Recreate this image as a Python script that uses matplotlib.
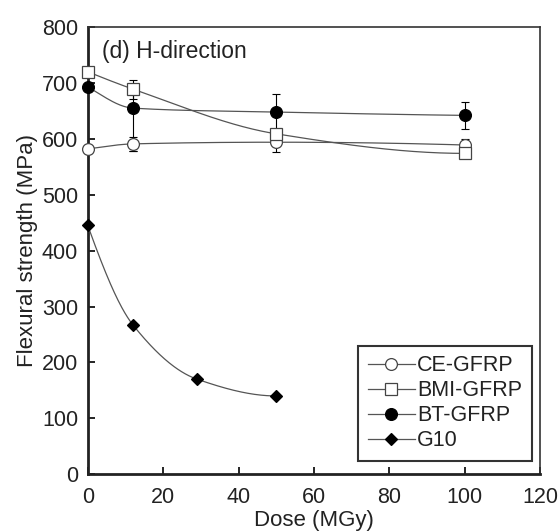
import numpy as np
import matplotlib.pyplot as plt

plt.rcParams['font.family'] = ['Liberation Sans', 'DejaVu Sans']

# dose (MGy) and flexural strength (MPa)
dose_gfrp = [0, 12, 50, 100]
ce_gfrp = [582, 591, 594, 589]
ce_err = [0, 12, 18, 10]
bmi_gfrp = [720, 689, 609, 574]
bmi_err = [0, 17, 0, 0]
bt_gfrp = [693, 655, 648, 642]
bt_err_lo = [0, 77, 32, 24]
bt_err_hi = [0, 30, 32, 24]

dose_g10 = [0, 12, 29, 50]
g10 = [445, 267, 170, 140]


def smooth(x, y, n=200):
    # monotone cubic (PCHIP) curve through the points, just for the connecting line
    x = np.asarray(x, float)
    y = np.asarray(y, float)
    h = np.diff(x)
    d = np.diff(y) / h
    m = np.zeros_like(y)
    for i in range(1, len(x) - 1):
        if d[i - 1] * d[i] > 0:
            w1 = 2 * h[i] + h[i - 1]
            w2 = h[i] + 2 * h[i - 1]
            m[i] = (w1 + w2) / (w1 / d[i - 1] + w2 / d[i])

    def end_slope(h0, h1, d0, d1):
        s = ((2 * h0 + h1) * d0 - h0 * d1) / (h0 + h1)
        if np.sign(s) != np.sign(d0):
            s = 0.0
        elif np.sign(d0) != np.sign(d1) and abs(s) > abs(3 * d0):
            s = 3 * d0
        return s

    m[0] = end_slope(h[0], h[1], d[0], d[1])
    m[-1] = end_slope(h[-1], h[-2], d[-1], d[-2])
    xs = np.linspace(x[0], x[-1], n)
    ys = np.empty_like(xs)
    for j, xv in enumerate(xs):
        k = min(np.searchsorted(x, xv, side='right') - 1, len(x) - 2)
        t = (xv - x[k]) / h[k]
        h00 = 2 * t**3 - 3 * t**2 + 1
        h10 = t**3 - 2 * t**2 + t
        h01 = -2 * t**3 + 3 * t**2
        h11 = t**3 - t**2
        ys[j] = h00 * y[k] + h10 * h[k] * m[k] + h01 * y[k + 1] + h11 * h[k] * m[k + 1]
    return xs, ys


fig = plt.figure(figsize=(5.59, 5.31), dpi=100)
ax = fig.add_axes([0.157, 0.107, 0.809, 0.842])

line_c = '#555555'
txt_c = '#222222'
fs = 16

# error bars
ax.errorbar(dose_gfrp, ce_gfrp, yerr=ce_err, fmt='none', ecolor='black', elinewidth=0.8, capsize=3, capthick=0.8, zorder=2)
ax.errorbar(dose_gfrp, bmi_gfrp, yerr=bmi_err, fmt='none', ecolor='black', elinewidth=0.8, capsize=3, capthick=0.8, zorder=2)
ax.errorbar(dose_gfrp, bt_gfrp, yerr=[bt_err_lo, bt_err_hi], fmt='none', ecolor='black', elinewidth=0.8, capsize=3, capthick=0.8, zorder=2)

series = [
    (dose_gfrp, ce_gfrp, 'o', 'white', 8.5, 'CE-GFRP'),
    (dose_gfrp, bmi_gfrp, 's', 'white', 9, 'BMI-GFRP'),
    (dose_gfrp, bt_gfrp, 'o', 'black', 8.5, 'BT-GFRP'),
    (dose_g10, g10, 'D', 'black', 6.5, 'G10'),
]
handles = []
for x, y, mk, fc, ms, lab in series:
    xs, ys = smooth(x, y)
    ec = 'black' if fc == 'black' else '#444444'
    ax.plot(xs, ys, color=line_c, lw=0.9, zorder=3)
    ax.plot(x, y, linestyle='none', marker=mk, mfc=fc, mec=ec,
            mew=0.9, ms=ms, zorder=4, clip_on=False)
    h, = ax.plot([], [], color=line_c, lw=0.9, marker=mk, mfc=fc, mec=ec, mew=0.9, ms=ms, label=lab)
    handles.append(h)

ax.set_xlim(0, 120)
ax.set_ylim(0, 800)
ax.set_xticks(range(0, 121, 20))
ax.set_yticks(range(0, 801, 100))
ax.tick_params(direction='in', length=5, width=1.2, labelsize=15.5, labelcolor=txt_c,
               top=False, right=False, pad=7)
ax.tick_params(axis='x', pad=9)

for s in ['left', 'bottom']:
    ax.spines[s].set_linewidth(2)
    ax.spines[s].set_color('#222222')
for s in ['top', 'right']:
    ax.spines[s].set_linewidth(1.2)
    ax.spines[s].set_color('#333333')

ax.set_xlabel('Dose (MGy)', fontsize=fs, color=txt_c, labelpad=2)
ax.set_ylabel('Flexural strength (MPa)', fontsize=fs, color=txt_c, labelpad=3)

ax.text(0.031, 0.97, '(d) H-direction', transform=ax.transAxes, fontsize=16.5,
        color=txt_c, va='top', ha='left')

leg = ax.legend(handles=handles, loc='lower right', bbox_to_anchor=(0.982, 0.03),
                fontsize=15.5, frameon=True, fancybox=False, edgecolor='black',
                handlelength=2.2, handletextpad=0.1, borderpad=0.45, labelspacing=0.18,
                borderaxespad=0)
leg.get_frame().set_linewidth(1.5)
for t in leg.get_texts():
    t.set_color(txt_c)

fig.savefig('out.png', dpi=100)
